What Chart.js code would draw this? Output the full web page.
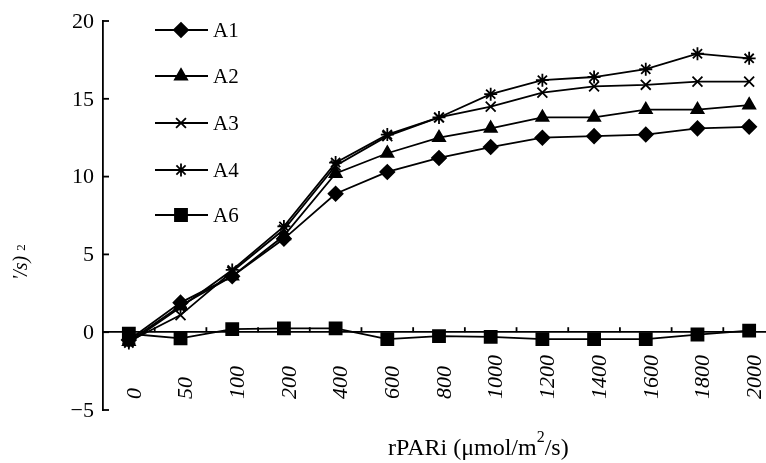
<!DOCTYPE html>
<html>
<head>
<meta charset="utf-8">
<script src="https://cdn.jsdelivr.net/npm/chart.js@4.4.1/dist/chart.umd.min.js"></script>
<style>
  html, body { margin: 0; padding: 0; background: #fff; overflow: hidden; }
  #wrap { position: relative; width: 800px; height: 463px; }
</style>
</head>
<body>
<div id="wrap"><canvas id="chart"></canvas></div>
<script>
// light levels on the x axis
const categories = ["0", "50", "100", "200", "400", "600", "800", "1000", "1200", "1400", "1600", "1800", "2000"];
const seriesNames = ["A1", "A2", "A3", "A4", "A6"];

// values
const a1 = [-0.5, 1.9, 3.6, 6.0, 8.9, 10.3, 11.2, 11.9, 12.5, 12.6, 12.7, 13.1, 13.2];
const a2 = [-0.6, 1.7, 3.6, 6.2, 10.2, 11.5, 12.5, 13.1, 13.8, 13.8, 14.3, 14.3, 14.6];
const a3 = [-0.6, 1.1, 3.9, 6.6, 10.7, 12.6, 13.8, 14.5, 15.4, 15.8, 15.9, 16.1, 16.1];
const a4 = [-0.7, 1.6, 4.0, 6.8, 10.9, 12.7, 13.8, 15.3, 16.2, 16.4, 16.9, 17.9, 17.6];
const a6 = [-0.1, -0.4, 0.2, 0.25, 0.25, -0.45, -0.25, -0.3, -0.45, -0.45, -0.45, -0.15, 0.1];

const yTicks = [20, 15, 10, 5, 0, -5];
const yTickLabels = ["20", "15", "10", "5", "0", "\u22125"];

const markers = ["rectRot", "triangle", "crossRot", "star", "rect"];
const markerSizes = [7, 7, 7, 6.5, 8.5];
const allData = [a1, a2, a3, a4, a6];

const SERIF = "'Liberation Serif', 'Times New Roman', serif";

const datasets = seriesNames.map((name, i) => ({
  label: name,
  data: allData[i],
  borderColor: "#000",
  backgroundColor: "#000",
  borderWidth: 1.8,
  pointStyle: markers[i],
  pointRadius: markerSizes[i],
  pointBorderWidth: 1.8,
  pointBackgroundColor: "#000",
  pointBorderColor: "#000",
  tension: 0,
}));

// draws ticks, labels, titles and legend the way the figure has them
const decorations = {
  id: "decorations",
  afterDraw(chart) {
    const ctx = chart.ctx;
    const x = chart.scales.x;
    const y = chart.scales.y;
    const x0 = chart.chartArea.left; // y axis line
    const yZero = y.getPixelForValue(0);
    ctx.save();
    ctx.strokeStyle = "#000";
    ctx.fillStyle = "#000";
    ctx.lineWidth = 1.8;

    // y ticks (inward) and labels
    ctx.font = "22px " + SERIF;
    ctx.textAlign = "right";
    ctx.textBaseline = "middle";
    yTicks.forEach((v, i) => {
      const py = y.getPixelForValue(v);
      ctx.beginPath();
      ctx.moveTo(x0, py);
      ctx.lineTo(x0 + 6, py);
      ctx.stroke();
      ctx.fillText(yTickLabels[i], x0 - 9, py + 1);
    });

    // x ticks between categories, pointing up
    for (let i = 1; i < categories.length; i++) {
      const px = (x.getPixelForValue(i - 1) + x.getPixelForValue(i)) / 2;
      ctx.beginPath();
      ctx.moveTo(px, yZero);
      ctx.lineTo(px, yZero - 5);
      ctx.stroke();
    }

    // rotated italic category labels
    ctx.font = "italic 22px " + SERIF;
    ctx.textAlign = "left";
    ctx.textBaseline = "middle";
    categories.forEach((c, i) => {
      const px = x.getPixelForValue(i);
      ctx.save();
      ctx.translate(px + 6, 399);
      ctx.rotate(-Math.PI / 2);
      ctx.fillText(c, 0, 0);
      ctx.restore();
    });

    // x axis title
    ctx.font = "24px " + SERIF;
    ctx.textAlign = "left";
    ctx.textBaseline = "alphabetic";
    let tx = 388;
    const base = 455;
    const part1 = "rPARi (\u03bcmol/m";
    ctx.fillText(part1, tx, base);
    tx += ctx.measureText(part1).width;
    ctx.font = "16px " + SERIF;
    ctx.fillText("2", tx, base - 13);
    tx += ctx.measureText("2").width;
    ctx.font = "24px " + SERIF;
    ctx.fillText("/s)", tx, base);

    // leftover piece of the y axis title, cut by the left edge
    ctx.save();
    ctx.translate(27, 280);
    ctx.rotate(-Math.PI / 2);
    ctx.font = "italic 20px " + SERIF;
    ctx.textBaseline = "alphabetic";
    ctx.fillText("'/s)", 0, 0);
    const w = ctx.measureText("'/s)").width;
    ctx.font = "13px " + SERIF;
    ctx.fillText("2", w + 5, -2);
    ctx.restore();

    // legend
    const legendY = [30, 76, 123, 170, 215];
    const helpers = Chart.helpers;
    seriesNames.forEach((name, i) => {
      const ly = legendY[i];
      ctx.lineWidth = 1.8;
      ctx.beginPath();
      ctx.moveTo(155, ly);
      ctx.lineTo(208, ly);
      ctx.stroke();
      if (helpers && helpers.drawPoint) {
        helpers.drawPoint(ctx, {
          pointStyle: markers[i],
          radius: markerSizes[i],
          borderWidth: 1.8,
          rotation: 0,
        }, 181, ly);
      }
      ctx.font = "21px " + SERIF;
      ctx.textAlign = "left";
      ctx.textBaseline = "middle";
      ctx.fillStyle = "#000";
      ctx.fillText(name, 213, ly + 1);
    });

    ctx.restore();
  },
};

const ctx = document.getElementById("chart").getContext("2d");
new Chart(ctx, {
  type: "line",
  data: { labels: categories, datasets: datasets },
  options: {
    responsive: true,
    maintainAspectRatio: false,
    animation: false,
    devicePixelRatio: 1,
    layout: { padding: { left: 103, top: 21, right: 25, bottom: 53 } },
    scales: {
      x: {
        type: "category",
        offset: true,
        position: { y: 0 },
        grid: { display: false },
        ticks: { display: false },
        border: { display: true, color: "#000", width: 1.8 },
      },
      y: {
        min: -5,
        max: 20,
        grid: { display: false },
        ticks: { display: false, stepSize: 5 },
        border: { display: true, color: "#000", width: 1.8 },
        afterFit: (scale) => { scale.width = 0; },
      },
    },
    plugins: {
      legend: { display: false },
      tooltip: { enabled: false },
    },
  },
  plugins: [decorations],
});
</script>
</body>
</html>
